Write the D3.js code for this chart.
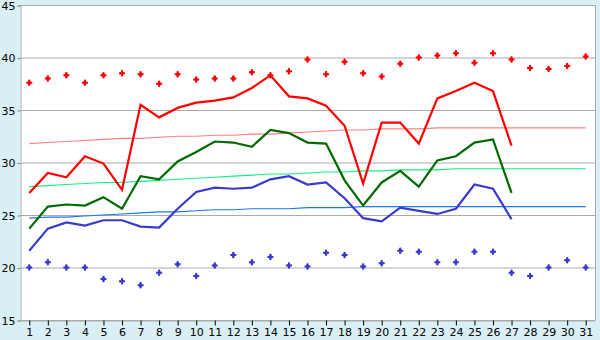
<!DOCTYPE html>
<html>
<head>
<meta charset="utf-8">
<script src="https://cdn.jsdelivr.net/npm/d3@7"></script>
<style>
  html, body { margin: 0; padding: 0; background: #d9eff6; }
  svg { display: block; }
  text { font-family: "DejaVu Sans", sans-serif; font-size: 11px; fill: #000; }
</style>
</head>
<body>
<svg id="chart" width="600" height="340"></svg>
<script>
// days of the month
const days = d3.range(1, 32);

// daily maxima (red markers), minima (blue markers)
const dayMax = [37.6, 38.0, 38.3, 37.6, 38.3, 38.5, 38.4, 37.5, 38.4, 37.9,
  38.0, 38.0, 38.6, 38.3, 38.7, 39.8, 38.4, 39.6, 38.5, 38.2,
  39.4, 40.0, 40.2, 40.4, 39.5, 40.4, 39.8, 39.0, 38.9, 39.2, 40.1];
const dayMin = [20.0, 20.5, 20.0, 20.0, 18.9, 18.7, 18.3, 19.5, 20.3, 19.2,
  20.2, 21.2, 20.5, 21.0, 20.2, 20.1, 21.4, 21.2, 20.1, 20.4,
  21.6, 21.5, 20.5, 20.5, 21.5, 21.5, 19.5, 19.2, 20.0, 20.7, 20.0];

// daily lines (days 1..27)
const lineHigh = [27.1, 29.0, 28.6, 30.6, 29.9, 27.4, 35.5, 34.3, 35.2, 35.7,
  35.9, 36.2, 37.1, 38.3, 36.3, 36.1, 35.4, 33.5, 28.0, 33.8,
  33.8, 31.8, 36.1, 36.8, 37.6, 36.8, 31.6];
const lineMean = [23.7, 25.8, 26.0, 25.9, 26.7, 25.6, 28.7, 28.4, 30.1, 31.0,
  32.0, 31.9, 31.5, 33.1, 32.8, 31.9, 31.8, 28.3, 25.9, 28.1,
  29.2, 27.7, 30.2, 30.6, 31.9, 32.2, 27.1];
const lineLow = [21.6, 23.7, 24.3, 24.0, 24.5, 24.5, 23.9, 23.8, 25.6, 27.2,
  27.6, 27.5, 27.6, 28.4, 28.7, 27.9, 28.1, 26.6, 24.7, 24.4,
  25.7, 25.4, 25.1, 25.6, 27.9, 27.5, 24.6];

// normals (thin lines, all 31 days)
const normHigh = [31.8, 31.9, 32.0, 32.1, 32.2, 32.3, 32.3, 32.4, 32.5, 32.5,
  32.6, 32.6, 32.7, 32.7, 32.8, 32.9, 33.0, 33.1, 33.1, 33.2,
  33.2, 33.2, 33.3, 33.3, 33.3, 33.3, 33.3, 33.3, 33.3, 33.3, 33.3];
const normMean = [27.7, 27.8, 27.9, 28.0, 28.1, 28.1, 28.2, 28.3, 28.4, 28.5,
  28.6, 28.7, 28.8, 28.9, 28.9, 29.0, 29.1, 29.1, 29.2, 29.2,
  29.3, 29.3, 29.3, 29.4, 29.4, 29.4, 29.4, 29.4, 29.4, 29.4, 29.4];
const normLow = [24.7, 24.8, 24.8, 24.9, 25.0, 25.1, 25.2, 25.3, 25.3, 25.4,
  25.5, 25.5, 25.6, 25.6, 25.6, 25.7, 25.7, 25.7, 25.8, 25.8,
  25.8, 25.8, 25.8, 25.8, 25.8, 25.8, 25.8, 25.8, 25.8, 25.8, 25.8];

const yTicks = [15, 20, 25, 30, 35, 40, 45];

const svg = d3.select("#chart");
const plot = { left: 20, right: 595, top: 5, bottom: 320 };

const x = d3.scalePoint()
  .domain(days)
  .range([plot.left, plot.right])
  .padding(0.5);

const y = d3.scaleLinear()
  .domain([15, 45])
  .range([plot.bottom, plot.top]);

// plot area
svg.append("rect")
  .attr("x", plot.left).attr("y", plot.top)
  .attr("width", plot.right - plot.left).attr("height", plot.bottom - plot.top)
  .attr("fill", "#fff");

// gridlines
svg.append("g")
  .selectAll("line")
  .data(yTicks)
  .join("line")
  .attr("x1", plot.left).attr("x2", plot.right)
  .attr("y1", d => y(d) + 0.5).attr("y2", d => y(d) + 0.5)
  .attr("stroke", "#aaa");

// right border
svg.append("line")
  .attr("x1", plot.right + 0.5).attr("x2", plot.right + 0.5)
  .attr("y1", plot.top).attr("y2", plot.bottom)
  .attr("stroke", "#aaa");

// y axis
const yAxis = svg.append("g")
  .attr("transform", `translate(${plot.left + 0.5},0.5)`)
  .call(d3.axisLeft(y).tickValues(yTicks).tickSize(3).tickPadding(2));
yAxis.select(".domain").attr("stroke", "#aaa");
yAxis.selectAll(".tick line").attr("stroke", "#888");
yAxis.selectAll("text").style("font-size", "11px").attr("fill", "#000");

// x axis
const xAxis = svg.append("g")
  .attr("transform", `translate(0,${plot.bottom + 0.5})`)
  .call(d3.axisBottom(x).tickSize(5).tickPadding(3).tickSizeOuter(0));
xAxis.select(".domain").attr("stroke", "#aaa");
xAxis.selectAll(".tick line").attr("stroke", "#000");
xAxis.selectAll("text").style("font-size", "11px").attr("fill", "#000");

const line = d3.line()
  .x((d, i) => x(days[i]))
  .y(d => y(d));

// normals
[[normHigh, "#ff8080"], [normMean, "#10f080"], [normLow, "#1a78f0"]].forEach(([data, c]) => {
  svg.append("path")
    .datum(data)
    .attr("d", line)
    .attr("fill", "none")
    .attr("stroke", c)
    .attr("stroke-width", 1.1);
});

// daily lines
[[lineHigh, "#ff0000"], [lineMean, "#006a00"], [lineLow, "#3a3acc"]].forEach(([data, c]) => {
  svg.append("path")
    .datum(data)
    .attr("d", line)
    .attr("fill", "none")
    .attr("stroke", c)
    .attr("stroke-width", 2.2)
    .attr("stroke-linejoin", "miter");
});

// markers
const cross = d3.symbol().type(d3.symbolCross).size(20);
const diamond = d3.symbol().type(d3.symbolDiamond).size(14);
[[dayMax, "#ff0000"], [dayMin, "#3a3acc"]].forEach(([data, c]) => {
  const g = svg.append("g");
  [cross, diamond].forEach(sym => {
    g.append("g")
      .selectAll("path")
      .data(data)
      .join("path")
      .attr("d", sym)
      .attr("transform", (d, i) => `translate(${x(days[i])},${y(d)})`)
      .attr("fill", c);
  });
});
</script>
</body>
</html>
